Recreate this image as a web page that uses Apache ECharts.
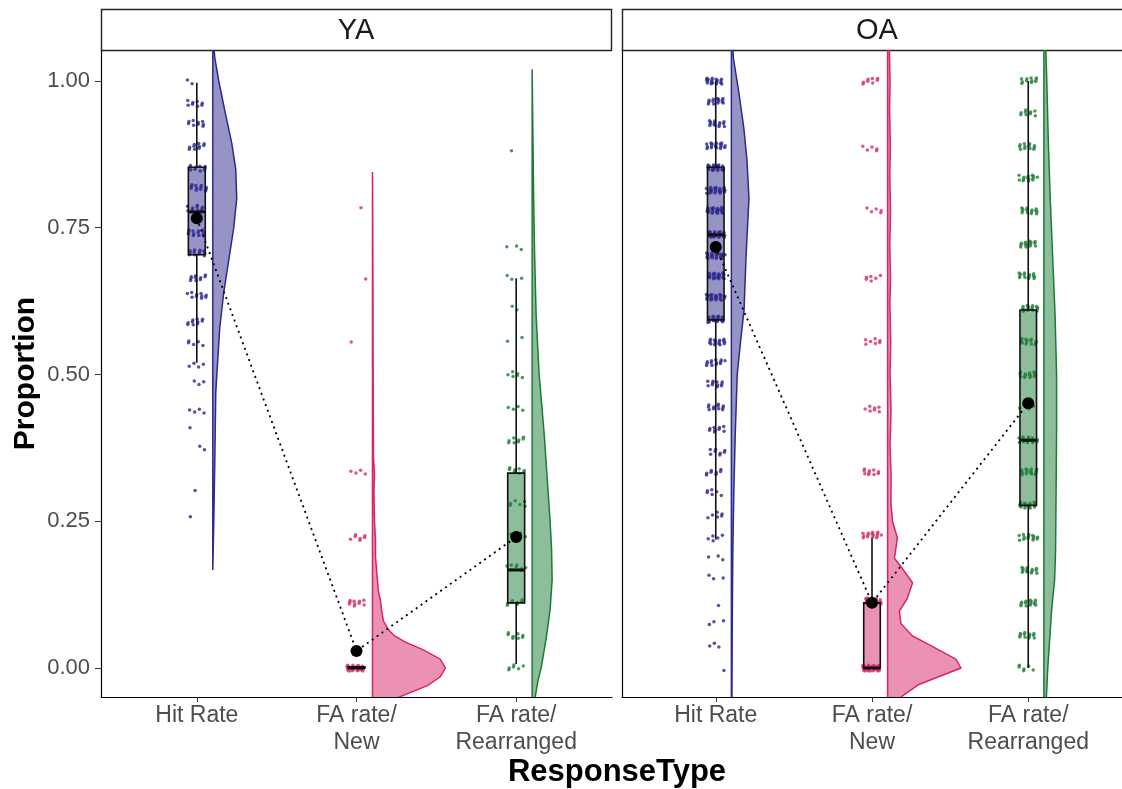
<!DOCTYPE html>
<html>
<head>
<meta charset="utf-8">
<script src="https://cdn.jsdelivr.net/npm/echarts@6/dist/echarts.min.js"></script>
<style>
  html, body { margin: 0; padding: 0; background: #fff; }
  #chart { width: 1122px; height: 789px; }
</style>
</head>
<body>
<div id="chart"></div>
<script>
// panels and categories
const groups = ['YA', 'OA'];
const categories = ['Hit Rate', 'FA rate/\nNew', 'FA rate/\nRearranged'];
const yTicks = [0, 0.25, 0.5, 0.75, 1];

// means per category (connected by the dotted line)
const yaMeans = [0.766, 0.029, 0.223];
const oaMeans = [0.717, 0.111, 0.451];

// boxplot stats: [lower whisker, Q1, median, Q3, upper whisker]
const yaBoxes = [
  [0.52, 0.704, 0.777, 0.853, 0.997],
  [0, 0, 0, 0.002, 0.002],
  [0.007, 0.111, 0.167, 0.332, 0.664]
];
const oaBoxes = [
  [0.219, 0.593, 0.738, 0.853, 1.0],
  [0, 0, 0, 0.111, 0.222],
  [0.0, 0.277, 0.388, 0.61, 1.0]
];

// raw points, as response levels and how many participants sit on each
const yaHitLevels = [1.0, 0.962, 0.928, 0.889, 0.852, 0.818, 0.783, 0.741, 0.707, 0.665, 0.635, 0.59, 0.553, 0.518, 0.485, 0.44, 0.407, 0.374, 0.303, 0.252];
const yaHitCounts = [2, 8, 9, 10, 10, 12, 10, 12, 12, 10, 10, 10, 5, 4, 3, 4, 1, 2, 1, 1];
const yaNewLevels = [0, 0.111, 0.223, 0.336, 0.553, 0.665, 0.78];
const yaNewCounts = [24, 10, 7, 4, 1, 1, 1];
const yaRearLevels = [0.886, 0.716, 0.664, 0.615, 0.56, 0.5, 0.441, 0.389, 0.337, 0.281, 0.226, 0.17, 0.111, 0.055, 0];
const yaRearCounts = [1, 3, 3, 2, 2, 6, 4, 8, 8, 6, 6, 8, 8, 8, 6];

const oaHitLevels = [1.0, 0.966, 0.928, 0.889, 0.852, 0.814, 0.78, 0.738, 0.702, 0.668, 0.632, 0.594, 0.555, 0.52, 0.484, 0.445, 0.407, 0.368, 0.334, 0.298, 0.26, 0.221, 0.187, 0.153, 0.111, 0.077, 0.037, 0.0];
const oaHitCounts = [18, 14, 14, 18, 22, 22, 22, 22, 22, 22, 22, 20, 16, 13, 11, 11, 9, 8, 8, 6, 6, 5, 3, 3, 1, 3, 3, 1];
const oaNewLevels = [0, 0.114, 0.226, 0.334, 0.441, 0.556, 0.664, 0.779, 0.886, 1.0];
const oaNewCounts = [32, 18, 15, 10, 7, 7, 6, 5, 5, 8];
const oaRearLevels = [0, 0.056, 0.111, 0.167, 0.222, 0.277, 0.334, 0.389, 0.445, 0.5, 0.556, 0.612, 0.668, 0.722, 0.779, 0.835, 0.889, 0.945, 1.0];
const oaRearCounts = [6, 12, 14, 14, 14, 16, 16, 16, 4, 14, 14, 16, 14, 14, 14, 14, 12, 9, 11];

// half-violin outlines: y positions and density half-widths
const yaHitDensY = [0.167, 0.25, 0.35, 0.47, 0.58, 0.64, 0.695, 0.75, 0.8, 0.85, 0.894, 0.95, 1.0, 1.04, 1.07];
const yaHitDensW = [0, 1, 2, 3, 7, 11, 16, 21, 24, 23, 19, 12, 6, 2, 0.5];
const yaNewDensY = [-0.08, -0.05, -0.03, -0.015, 0, 0.015, 0.03, 0.045, 0.055, 0.065, 0.08, 0.1, 0.115, 0.13, 0.15, 0.19, 0.22, 0.25, 0.3, 0.33, 0.36, 0.45, 0.55, 0.65, 0.75, 0.845];
const yaNewDensW = [6, 26, 55, 68, 73, 68, 52, 32, 22, 16, 11, 9, 8, 6, 5, 3, 3, 2, 1.5, 2, 1, 0.8, 0.6, 0.5, 0.3, 0];
const yaRearDensY = [-0.06, -0.02, 0, 0.05, 0.1, 0.15, 0.2, 0.25, 0.3, 0.35, 0.4, 0.45, 0.5, 0.6, 0.7, 0.8, 0.9, 1.02];
const yaRearDensW = [2, 6, 9, 14, 18, 20, 19.5, 18, 16, 14, 12, 9.5, 7, 4, 2.5, 1.5, 0.8, 0];

const oaHitDensY = [-0.07, 0.1, 0.2, 0.3, 0.4, 0.5, 0.55, 0.61, 0.7, 0.8, 0.865, 0.92, 0.98, 1.04, 1.08];
const oaHitDensW = [0.5, 1, 1.5, 2.5, 4, 6, 9, 13, 15, 18, 16, 12.7, 7.7, 2, 1];
const oaNewDensY = [-0.08, -0.049, -0.028, 0, 0.015, 0.034, 0.055, 0.076, 0.097, 0.118, 0.145, 0.173, 0.187, 0.222, 0.25, 0.28, 0.33, 0.38, 0.44, 0.5, 0.556, 0.62, 0.665, 0.72, 0.78, 0.84, 0.89, 0.95, 1.0, 1.08];
const oaNewDensW = [5, 14, 32, 75, 70, 49, 25, 13.6, 12, 20, 25.5, 13.6, 7, 10, 5, 3.4, 3.5, 2.5, 3.5, 2.5, 3.2, 2.3, 3, 2.2, 3, 2.2, 2.8, 2, 2.5, 1.5];
const oaRearDensY = [-0.07, 0, 0.05, 0.1, 0.15, 0.2, 0.3, 0.4, 0.5, 0.6, 0.7, 0.8, 0.9, 1.0, 1.08];
const oaRearDensW = [2, 4, 6, 8, 11, 12, 12.5, 13, 13, 11.5, 9, 6.5, 4.5, 3, 1.5];

// colours per response type
const lineColors = ['#2c2a8c', '#d6246a', '#1c7b35'];
const fillColors = ['rgba(44,42,140,0.5)', 'rgba(214,36,106,0.5)', 'rgba(28,123,53,0.5)'];
const pointColors = ['#2b288e', '#d92a6b', '#1f8038'];

const panels = [
  {
    means: yaMeans, boxes: yaBoxes,
    levels: [yaHitLevels, yaNewLevels, yaRearLevels],
    counts: [yaHitCounts, yaNewCounts, yaRearCounts],
    dens: [[yaHitDensY, yaHitDensW], [yaNewDensY, yaNewDensW], [yaRearDensY, yaRearDensW]]
  },
  {
    means: oaMeans, boxes: oaBoxes,
    levels: [oaHitLevels, oaNewLevels, oaRearLevels],
    counts: [oaHitCounts, oaNewCounts, oaRearCounts],
    dens: [[oaHitDensY, oaHitDensW], [oaNewDensY, oaNewDensW], [oaRearDensY, oaRearDensW]]
  }
];

const violinOffset = 0.1;    // violin sits just right of the box
const violinScale = 1 / 160; // density width -> x axis units
const boxHalf = 0.053;
const jitterW = 0.12;
const jitterH = 0.011;

// deterministic 2D low-discrepancy jitter (R2 sequence, no randomness)
function frac(v) { return v - Math.floor(v); }

function pointsFor(levels, counts, c) {
  const out = [];
  let n = 0;
  levels.forEach((lv, li) => {
    for (let i = 0; i < counts[li]; i++) {
      n++;
      const jx = frac(0.5 + n * 0.7548776662) - 0.5;
      const jy = frac(0.5 + n * 0.5698402910) - 0.5;
      out.push([c + jx * jitterW, lv + jy * jitterH]);
    }
  });
  return out;
}

const series = [];
panels.forEach((p, gi) => {
  // half violins
  series.push({
    type: 'custom', xAxisIndex: gi, yAxisIndex: gi, z: 1, clip: true, silent: true,
    data: [[1, 0], [2, 0], [3, 0]],
    renderItem: (params, api) => {
      const k = params.dataIndex;
      const ys = p.dens[k][0], ws = p.dens[k][1];
      const base = k + 1 + violinOffset;
      const pts = ys.map((y, i) => api.coord([base + ws[i] * violinScale, y]));
      pts.push(api.coord([base, ys[ys.length - 1]]));
      pts.push(api.coord([base, ys[0]]));
      return {
        type: 'polygon', shape: { points: pts },
        style: { fill: fillColors[k], stroke: lineColors[k], lineWidth: 1.5 }
      };
    }
  });
  // jittered raw points
  for (let k = 0; k < 3; k++) {
    series.push({
      type: 'scatter', xAxisIndex: gi, yAxisIndex: gi, z: 2, silent: true,
      symbolSize: 3.5, itemStyle: { color: pointColors[k] },
      data: pointsFor(p.levels[k], p.counts[k], k + 1)
    });
  }
  // boxplots
  series.push({
    type: 'custom', xAxisIndex: gi, yAxisIndex: gi, z: 3, silent: true,
    data: [[1, 0], [2, 0], [3, 0]],
    renderItem: (params, api) => {
      const k = params.dataIndex;
      const b = p.boxes[k];
      const c = k + 1;
      const lo = api.coord([c, b[0]]), q1 = api.coord([c, b[1]]), q3 = api.coord([c, b[3]]), hi = api.coord([c, b[4]]);
      const l = api.coord([c - boxHalf, b[2]]), r = api.coord([c + boxHalf, b[2]]);
      const ls = { stroke: '#111', lineWidth: 1.6 };
      return {
        type: 'group', children: [
          { type: 'line', shape: { x1: lo[0], y1: lo[1], x2: q1[0], y2: q1[1] }, style: ls },
          { type: 'line', shape: { x1: q3[0], y1: q3[1], x2: hi[0], y2: hi[1] }, style: ls },
          { type: 'rect', shape: { x: l[0], y: q3[1], width: r[0] - l[0], height: q1[1] - q3[1] },
            style: { fill: fillColors[k], stroke: '#111', lineWidth: 1.6 } },
          { type: 'line', shape: { x1: l[0], y1: l[1], x2: r[0], y2: r[1] }, style: { stroke: '#111', lineWidth: 3 } }
        ]
      };
    }
  });
  // means with dotted connector
  series.push({
    type: 'line', xAxisIndex: gi, yAxisIndex: gi, z: 5, silent: true,
    symbol: 'circle', symbolSize: 12, showSymbol: true,
    itemStyle: { color: '#000' },
    lineStyle: { color: '#000', width: 1.8, type: [2, 4] },
    data: p.means.map((m, k) => [k + 1, m])
  });
});

const xAxisBase = {
  type: 'value', min: 0.4, max: 3.6,
  splitLine: { show: false },
  axisLine: { show: true, onZero: false, lineStyle: { color: '#000', width: 1.2 } },
  axisTick: { show: true, customValues: [1, 2, 3], length: 5, lineStyle: { color: '#333' } },
  axisLabel: {
    customValues: [1, 2, 3], formatter: v => categories[Math.round(v) - 1],
    fontSize: 23, color: '#4d4d4d', lineHeight: 27, margin: 5
  }
};

const option = {
  animation: false,
  backgroundColor: '#fff',
  textStyle: { fontFamily: 'Liberation Sans, Arial, sans-serif' },
  grid: [
    { left: 101, top: 50, width: 511, height: 647 },
    { left: 622, top: 50, width: 511, height: 647 }
  ],
  xAxis: [
    Object.assign({ gridIndex: 0 }, xAxisBase),
    Object.assign({ gridIndex: 1 }, xAxisBase)
  ],
  yAxis: [
    {
      gridIndex: 0, type: 'value', min: -0.0494, max: 1.0528,
      splitLine: { show: false },
      axisLine: { show: true, onZero: false, lineStyle: { color: '#000', width: 1.2 } },
      axisTick: { show: true, customValues: yTicks, length: 6, lineStyle: { color: '#333' } },
      axisLabel: { customValues: yTicks, formatter: v => v.toFixed(2), fontSize: 22, color: '#4d4d4d', margin: 11 },
      name: 'Proportion', nameLocation: 'middle', nameGap: 60,
      nameTextStyle: { fontSize: 30, fontWeight: 'bold', color: '#000' }
    },
    {
      gridIndex: 1, type: 'value', min: -0.0494, max: 1.0528,
      splitLine: { show: false },
      axisLine: { show: true, onZero: false, lineStyle: { color: '#000', width: 1.2 } },
      axisTick: { show: false },
      axisLabel: { show: false }
    }
  ],
  graphic: [
    { type: 'rect', shape: { x: 101.5, y: 9.5, width: 510, height: 41 }, style: { fill: '#fff', stroke: '#222', lineWidth: 1.4 } },
    { type: 'text', x: 356, y: 31, style: { text: groups[0], fontSize: 29, fill: '#1a1a1a', align: 'center', verticalAlign: 'middle', fontFamily: 'Liberation Sans' } },
    { type: 'rect', shape: { x: 622.5, y: 9.5, width: 511, height: 41 }, style: { fill: '#fff', stroke: '#222', lineWidth: 1.4 } },
    { type: 'text', x: 877, y: 31, style: { text: groups[1], fontSize: 29, fill: '#1a1a1a', align: 'center', verticalAlign: 'middle', fontFamily: 'Liberation Sans' } },
    { type: 'text', x: 617, y: 772, style: { text: 'ResponseType', fontSize: 31, fontWeight: 'bold', fill: '#000', align: 'center', verticalAlign: 'middle', fontFamily: 'Liberation Sans' } }
  ],
  series: series
};

const chart = echarts.init(document.getElementById('chart'));
chart.setOption(option);
</script>
</body>
</html>
